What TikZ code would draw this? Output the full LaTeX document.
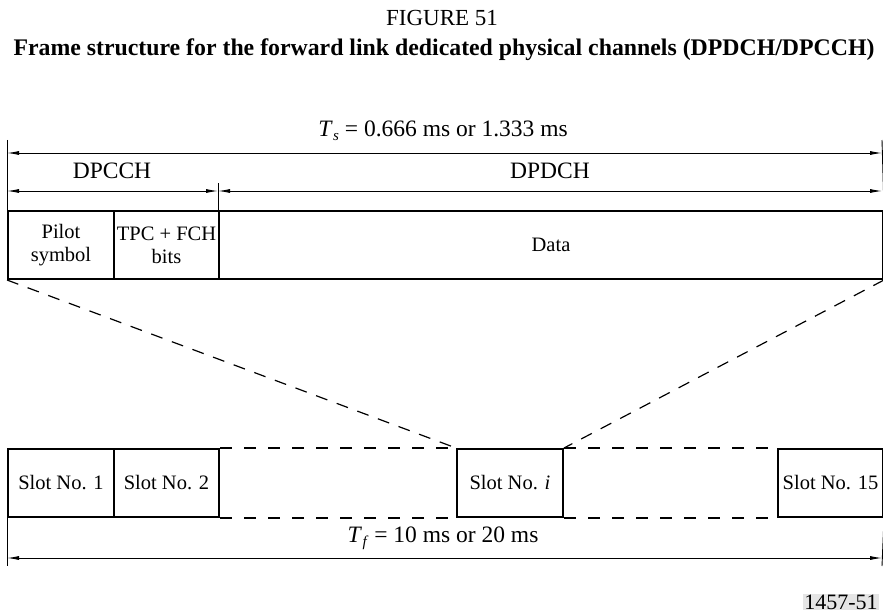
\documentclass[tikz,border=0pt]{standalone}
\usepackage{fontspec}
\setmainfont{Liberation Serif}
\usetikzlibrary{arrows.meta}
\newcommand{\symT}[1]{\textit{T}\kern0.5pt\raisebox{-0.35ex}{\fontsize{15}{16}\selectfont\textit{#1}}}
\begin{document}
\begin{tikzpicture}[x=1pt,y=-1pt,
  font=\fontsize{23.5}{26}\selectfont,
  box/.style={draw, line width=2pt, minimum height=68pt, inner sep=0pt, align=center, anchor=north west, font=\fontsize{20.5}{23}\selectfont},
  dim/.style={line width=0.9pt, {Latex[length=12pt,width=4pt]}-{Latex[length=12pt,width=4pt]}},
  guide/.style={line width=0.9pt},
  dsh/.style={line width=1.6pt, dash pattern=on 12pt off 12pt},
  dshd/.style={line width=1.2pt, dash pattern=on 12pt off 10pt}]
\useasboundingbox (0,0) rectangle (883,615);
% titles
\node[font=\fontsize{23}{26}\selectfont] (fig) at (442,18) {FIGURE 51};
\node[font=\fontsize{23.8}{26}\selectfont\bfseries] (title) at (444,50) {Frame structure for the forward link dedicated physical channels (DPDCH/DPCCH)};
% top frame
\node[box, minimum width=106pt] (pilot) at (7,210) {Pilot\\symbol};
\node[box, minimum width=105pt] (tpc) at (113,210) {TPC + FCH\\bits};
\node[box, minimum width=664pt] (data) at (218,210) {Data};
% top dimension lines
\coordinate (tl) at (7,140);
\coordinate (tr) at (882,140);
\coordinate (mid) at (218,183);
\draw[guide] (tl) -- (pilot.north west);
\draw[guide] (tr) -- (data.north east);
\draw[guide] (mid) -- (data.north west);
\coordinate (tsL) at (7,153);
\coordinate (tsR) at (882,153);
\draw[dim] (tsL) -- (tsR);
\node (ts) at (443,131) {\symT{s} = 0.666 ms or 1.333 ms};
\coordinate (cL) at (7,191);
\coordinate (cR) at (218,191);
\coordinate (dR) at (882,191);
\draw[dim] (cL) -- (cR);
\draw[dim] (cR) -- (dR);
\node (dpcch) at (112,171) {DPCCH};
\node (dpdch) at (550,171) {DPDCH};
% bottom slots
\node[box, minimum width=106pt] (s1) at (7,448) {Slot No. 1};
\node[box, minimum width=105pt] (s2) at (113,448) {Slot No. 2};
\node[box, minimum width=106pt] (si) at (456,448) {Slot No. \textit{i}};
\node[box, minimum width=105pt] (s15) at (777,448) {Slot No. 15};
% dashed continuation
\draw[dsh] (s2.north east) -- (si.north west);
\draw[dsh] (s2.south east) -- (si.south west);
\draw[dsh] (si.north east) -- (s15.north west);
\draw[dsh] (si.south east) -- (s15.south west);
% zoom lines
\draw[dshd] (pilot.south west) -- (si.north west);
\draw[dshd] (data.south east) -- (si.north east);
% bottom dimension
\coordinate (bl) at (7,566);
\coordinate (br) at (882,566);
\draw[guide] (s1.south west) -- (bl);
\draw[guide] (s15.south east) -- (br);
\coordinate (tfL) at (7,558);
\coordinate (tfR) at (882,558);
\draw[dim] (tfL) -- (tfR);
\node (tf) at (443,538) {\symT{f} = 10 ms or 20 ms};
% figure number
\node[fill=black!10, inner sep=1pt, font=\fontsize{22}{24}\selectfont] (num) at (841,602) {1457-51};
\end{tikzpicture}
\end{document}
